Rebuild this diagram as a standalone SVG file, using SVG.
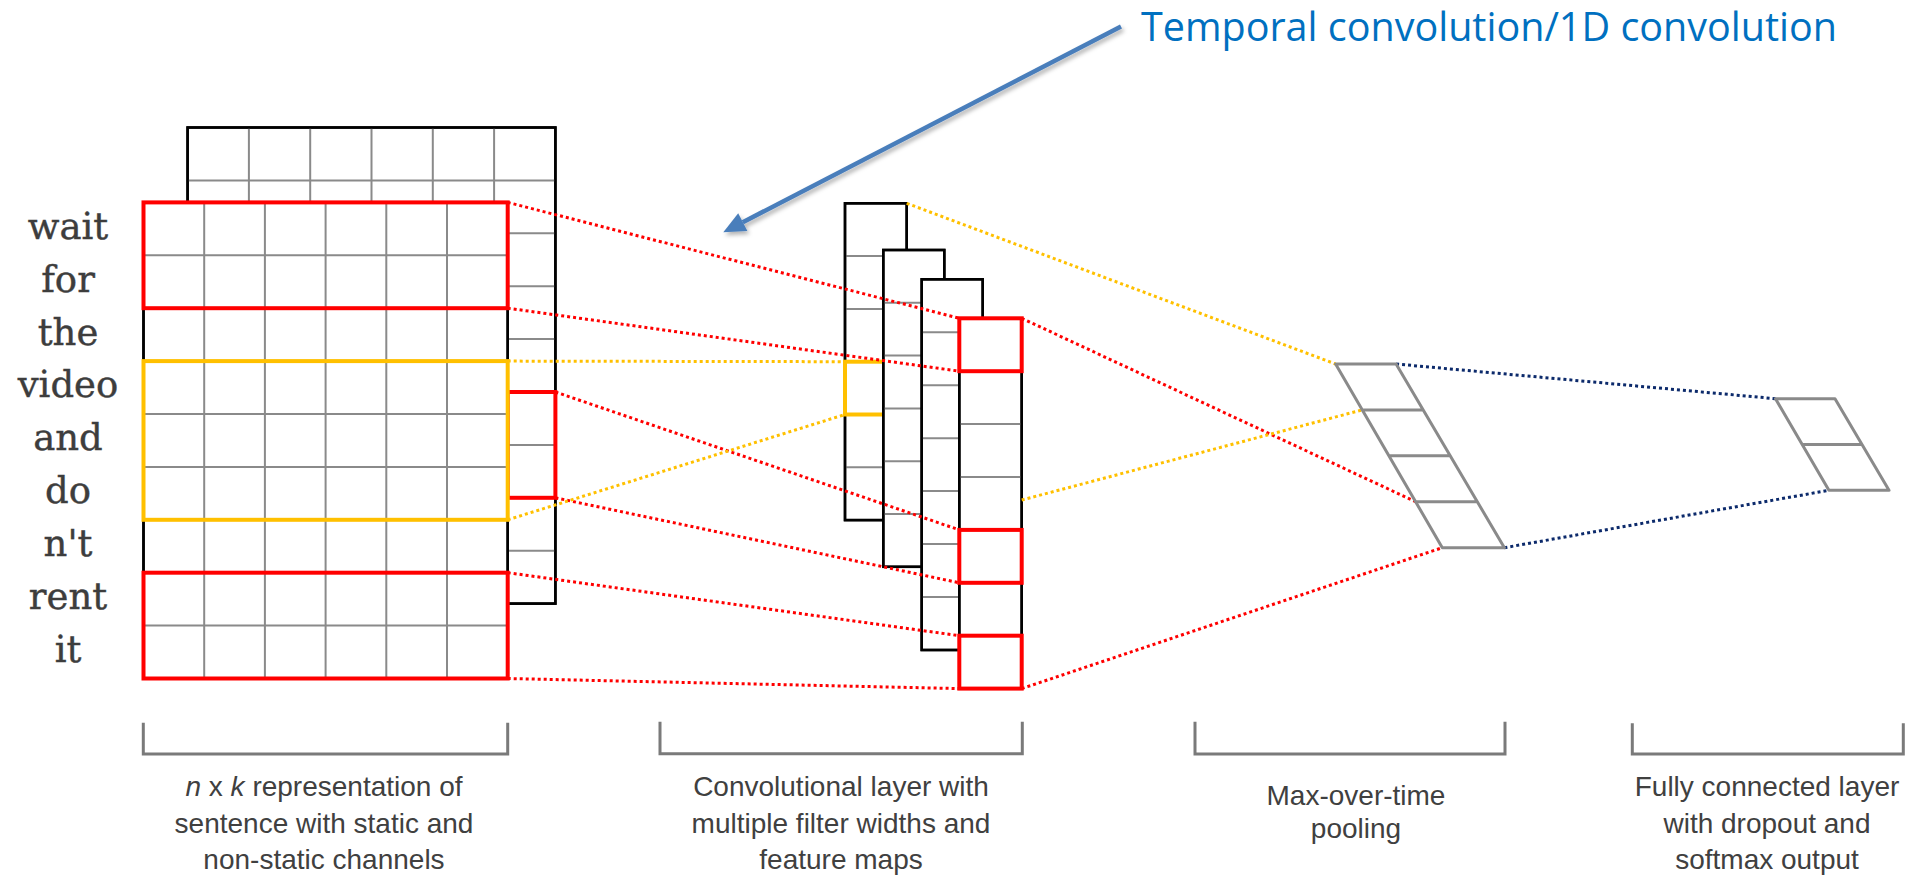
<svg xmlns="http://www.w3.org/2000/svg" width="1923" height="875" viewBox="0 0 1923 875">
<defs>
<style>
.bg{fill:#ffffff}
.box{fill:#ffffff;stroke:#000000;stroke-width:2.5}
.grid{stroke:#8a8a8a;stroke-width:2;fill:none}
.red{fill:none;stroke:#ff0000;stroke-width:4}
.yel{fill:none;stroke:#ffc000;stroke-width:4}
.dr{stroke:#ff0000;stroke-width:3;stroke-dasharray:3 3;fill:none}
.dy{stroke:#ffc000;stroke-width:3;stroke-dasharray:3 3;fill:none}
.dn{stroke:#0c2a6b;stroke-width:3;stroke-dasharray:3 3;fill:none}
.pool{stroke:#8a8a8a;stroke-width:3;fill:none;stroke-linejoin:round}
.word{font-family:"DejaVu Serif",serif;font-size:37px;fill:#3d3d3d;text-anchor:middle;stroke:#3d3d3d;stroke-width:0.4}
.lbl{font-family:"Liberation Sans",Arial,sans-serif;font-size:28px;fill:#404040;text-anchor:middle}
.brk{stroke:#7a7a7a;stroke-width:3;fill:none}
.title{font-family:"Open Sans","Liberation Sans",sans-serif;font-size:39.5px;fill:#0070c0}
</style>
<filter id="sh" x="-10%" y="-10%" width="120%" height="130%">
<feDropShadow dx="2" dy="3" stdDeviation="2" flood-color="#000" flood-opacity="0.3"/>
</filter>
</defs>
<rect class="bg" x="0" y="0" width="1923" height="875"/>

<g id="back-matrix">
<rect class="box" x="187.6" y="127.5" width="367.8" height="476.1"/>
<path class="grid" d="M248.9,127.5V603.6M310.2,127.5V603.6M371.5,127.5V603.6M432.8,127.5V603.6M494.1,127.5V603.6M187.6,180.4H555.4M187.6,233.3H555.4M187.6,286.2H555.4M187.6,339.1H555.4M187.6,392H555.4M187.6,444.9H555.4M187.6,497.8H555.4M187.6,550.7H555.4"/>
<rect class="box" x="187.6" y="127.5" width="367.8" height="476.1" style="fill:none"/>
<rect class="red" x="507.7" y="392" width="47.7" height="105.8"/>
</g>

<g id="front-matrix">
<rect class="box" x="143.5" y="202.4" width="364.2" height="476.1"/>
<path class="grid" d="M204.2,202.4V678.5M264.9,202.4V678.5M325.6,202.4V678.5M386.3,202.4V678.5M447,202.4V678.5M143.5,255.3H507.7M143.5,308.2H507.7M143.5,361.1H507.7M143.5,414H507.7M143.5,466.9H507.7M143.5,519.8H507.7M143.5,572.7H507.7M143.5,625.6H507.7"/>
<rect class="box" x="143.5" y="202.4" width="364.2" height="476.1" style="fill:none"/>
<rect class="red" x="143.5" y="202.4" width="364.2" height="105.8"/>
<rect class="yel" x="143.5" y="361.1" width="364.2" height="158.7"/>
<rect class="red" x="143.5" y="572.7" width="364.2" height="105.8"/>
</g>

<g id="words">
<text class="word" x="68" y="239">wait</text>
<text class="word" x="68" y="292">for</text>
<text class="word" x="68" y="345">the</text>
<text class="word" x="68" y="397">video</text>
<text class="word" x="68" y="450">and</text>
<text class="word" x="68" y="503">do</text>
<text class="word" x="68" y="556">n't</text>
<text class="word" x="68" y="609">rent</text>
<text class="word" x="68" y="662">it</text>
</g>

<g id="feature-map-1">
<rect class="box" x="845" y="203.3" width="61.7" height="316.8"/>
<path class="grid" d="M845,256.1H906.7M845,308.9H906.7M845,361.7H906.7M845,414.5H906.7M845,467.3H906.7"/>
<rect class="box" x="845" y="203.3" width="61.7" height="316.8" style="fill:none"/>
<rect class="yel" x="845" y="361.7" width="61.7" height="52.8"/>
</g>
<g id="feature-map-2">
<rect class="box" x="883.3" y="250" width="61" height="316.8"/>
<path class="grid" d="M883.3,302.8H944.3M883.3,355.6H944.3M883.3,408.4H944.3M883.3,461.2H944.3M883.3,514H944.3"/>
<rect class="box" x="883.3" y="250" width="61" height="316.8" style="fill:none"/>
</g>
<g id="feature-map-3">
<rect class="box" x="921.7" y="279.3" width="61" height="370.7"/>
<path class="grid" d="M921.7,332.3H982.7M921.7,385.2H982.7M921.7,438.2H982.7M921.7,491.1H982.7M921.7,544.1H982.7M921.7,597.1H982.7"/>
<rect class="box" x="921.7" y="279.3" width="61" height="370.7" style="fill:none"/>
</g>
<g id="feature-map-4">
<rect class="box" x="959.3" y="318.3" width="62.4" height="370.3"/>
<path class="grid" d="M959.3,371.2H1021.7M959.3,424.1H1021.7M959.3,477H1021.7M959.3,529.9H1021.7M959.3,582.8H1021.7M959.3,635.7H1021.7"/>
<rect class="box" x="959.3" y="318.3" width="62.4" height="370.3" style="fill:none"/>
<rect class="red" x="959.3" y="318.3" width="62.4" height="52.9"/>
<rect class="red" x="959.3" y="529.9" width="62.4" height="52.9"/>
<rect class="red" x="959.3" y="635.7" width="62.4" height="52.9"/>
</g>

<g id="connectors">
<line class="dr" x1="507.7" y1="202.4" x2="959.3" y2="318.3"/>
<line class="dr" x1="507.7" y1="308.2" x2="959.3" y2="371.2"/>
<line class="dr" x1="555.4" y1="392" x2="959.3" y2="529.9"/>
<line class="dr" x1="555.4" y1="497.8" x2="959.3" y2="582.8"/>
<line class="dr" x1="507.7" y1="572.7" x2="959.3" y2="635.7"/>
<line class="dr" x1="507.7" y1="678.5" x2="959.3" y2="688.6"/>
<line class="dr" x1="1021.7" y1="318.3" x2="1415.6" y2="501.7"/>
<line class="dr" x1="1021.7" y1="688.6" x2="1442.3" y2="547.7"/>
<line class="dy" x1="507.7" y1="361.1" x2="845" y2="361.7"/>
<line class="dy" x1="507.7" y1="519.8" x2="845" y2="414.5"/>
<line class="dy" x1="906.7" y1="203.3" x2="1335.6" y2="364"/>
<line class="dy" x1="1021.7" y1="500" x2="1362.3" y2="409.9"/>
<line class="dn" x1="1396.1" y1="364" x2="1775.5" y2="398.7"/>
<line class="dn" x1="1504.4" y1="547.7" x2="1828.9" y2="490.3"/>
</g>

<g id="max-pooling">
<path class="pool" d="M1335.6,364H1396.1L1504.4,547.7H1442.3ZM1362.3,409.9H1423.3M1389,455.8H1450M1415.6,501.7H1476.6"/>
</g>

<g id="fully-connected">
<path class="pool" d="M1775.5,398.7H1835L1889,490.3H1828.9ZM1802.2,444.5H1862"/>
</g>

<g id="brackets">
<path class="brk" d="M143.3,722.7V754H507.7V722.7"/>
<path class="brk" d="M660,721.7V753.7H1022.3V721.7"/>
<path class="brk" d="M1195,721.7V754H1505V721.7"/>
<path class="brk" d="M1632.3,723.3V754H1903.3V723.3"/>
</g>

<g id="labels">
<text class="lbl" x="324" y="796"><tspan font-style="italic">n</tspan> x <tspan font-style="italic">k</tspan> representation of</text>
<text class="lbl" x="324" y="833">sentence with static and</text>
<text class="lbl" x="324" y="869">non-static channels</text>
<text class="lbl" x="841" y="796">Convolutional layer with</text>
<text class="lbl" x="841" y="833">multiple filter widths and</text>
<text class="lbl" x="841" y="869">feature maps</text>
<text class="lbl" x="1356" y="805">Max-over-time</text>
<text class="lbl" x="1356" y="838">pooling</text>
<text class="lbl" x="1767" y="796">Fully connected layer</text>
<text class="lbl" x="1767" y="833">with dropout and</text>
<text class="lbl" x="1767" y="869">softmax output</text>
</g>

<g id="annotation">
<g filter="url(#sh)">
<line x1="1121" y1="26.5" x2="742.8" y2="222.2" stroke="#4a7ebb" stroke-width="4.5"/>
<polygon points="723.3,232.3 747.4,231.1 738.2,213.3" fill="#4a7ebb"/>
</g>
<text class="title" x="1141" y="40.5">Temporal convolution/1D convolution</text>
</g>
</svg>
